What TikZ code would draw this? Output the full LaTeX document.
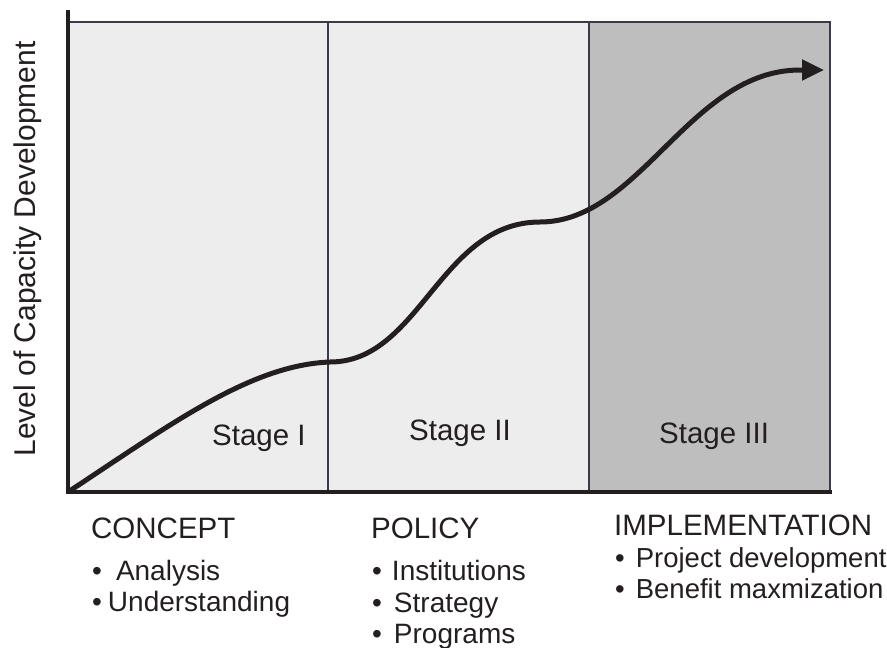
\documentclass[tikz,border=0pt]{standalone}
\usepackage{fontspec}
\setmainfont{Liberation Sans}
\usetikzlibrary{arrows.meta}
\definecolor{ink}{HTML}{231F20}
\definecolor{panellight}{HTML}{EDEDED}
\definecolor{paneldark}{HTML}{BEBEBE}
\definecolor{divider}{HTML}{3C3A4A}
\tikzset{
  lbl/.style={text=ink, inner sep=0pt, font=\fontsize{28}{33}\selectfont},
  big/.style={lbl, font=\fontsize{29.5}{35}\selectfont},
  axisline/.style={draw=ink, line width=4pt},
  divline/.style={draw=divider, line width=1.2pt},
  growth/.style={draw=ink, line width=5pt, -{Triangle[length=22pt,width=20pt]}}
}
\begin{document}
\begin{tikzpicture}[x=1pt,y=-1pt]
\useasboundingbox (0,0) rectangle (887,648);
% panels
\fill[panellight] (68,22) rectangle (589,492);
\fill[paneldark] (589,22) rectangle (830,492);
\draw[divline] (68,22) -- (830,22) -- (830,492);
\draw[divline] (328,22) -- (328,492);
\draw[divline] (589,22) -- (589,492);
% axes
\draw[axisline] (68,10) -- (68,492) -- (832,492);
% curve
\coordinate (c0) at (68,492);
\coordinate (c1) at (330,362);
\coordinate (c2) at (540,222);
\coordinate (c3) at (800,70);
\coordinate (c4) at (824,70);
\draw[growth] (c0) .. controls (170,425) and (250,365) .. (c1)
  .. controls (420,362) and (440,222) .. (c2)
  .. controls (640,222) and (690,70) .. (c3) -- (c4);
% stage labels
\node[big, anchor=base west] (s1) at (212,445) {Stage I};
\node[big, anchor=base west] (s2) at (409,440) {Stage II};
\node[big, anchor=base west] (s3) at (659,443) {Stage III};
% y label
\node[lbl, font=\fontsize{30}{36}\selectfont, anchor=base, rotate=90] (ylab) at (35,249) {Level of Capacity Development};
% lists
\node[big, anchor=base west] (h1) at (91,538) {CONCEPT};
\node[lbl, anchor=base west] (h1a) at (92,580) {•\hspace{14pt}Analysis};
\node[lbl, anchor=base west] (h1b) at (92,611) {•\hspace{6pt}Understanding};
\node[big, anchor=base west] (h2) at (371,538) {POLICY};
\node[lbl, anchor=base west] (h2a) at (372,580) {•\hspace{10pt}Institutions};
\node[lbl, anchor=base west] (h2b) at (372,612) {•\hspace{12pt}Strategy};
\node[lbl, anchor=base west] (h2c) at (372,643) {•\hspace{12pt}Programs};
\node[big, anchor=base west] (h3) at (614,535) {IMPLEMENTATION};
\node[lbl, font=\fontsize{27.5}{33}\selectfont, anchor=base west] (h3a) at (615,567) {•\hspace{11pt}Project development};
\node[lbl, font=\fontsize{27.5}{33}\selectfont, anchor=base west] (h3b) at (615,598) {•\hspace{11pt}Benefit maxmization};
\end{tikzpicture}
\end{document}
